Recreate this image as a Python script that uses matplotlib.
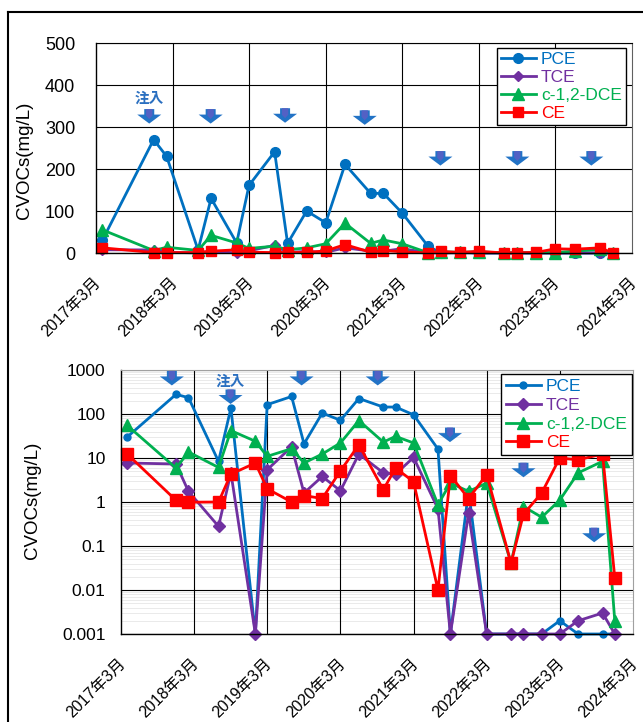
import numpy as np
import pandas as pd
import matplotlib
matplotlib.use("Agg")
from matplotlib import pyplot as plt
import matplotlib.dates as mdates
import matplotlib.transforms as mtrans
from matplotlib.patches import Polygon
from matplotlib.lines import Line2D
from matplotlib.ticker import FixedLocator, FuncFormatter, LogLocator, NullFormatter

plt.rcParams['font.family'] = ['Liberation Sans', 'Noto Sans CJK JP', 'DejaVu Sans']

# sampling dates (shared by all series)
dates = ["2017-04-01", "2017-12-01", "2018-02-01", "2018-07-01", "2018-09-01",
         "2019-01-01", "2019-03-01", "2019-07-01", "2019-09-01", "2019-12-01",
         "2020-03-01", "2020-06-01", "2020-10-01", "2020-12-01", "2021-03-01",
         "2021-07-01", "2021-09-01", "2021-12-01", "2022-03-01", "2022-07-01",
         "2022-09-01", "2022-12-01", "2023-03-01", "2023-06-01", "2023-10-01",
         "2023-12-01"]

# mg/L, top (linear) chart PCE
pce_lin = [31, 270, 230, 7, 130, 24, 161, 241, 23, 100, 72, 211, 142, 142, 95, 17,
           0, 2, 0, 0, 0, 0, 0, 0, 0, 0]
# mg/L, bottom (log) chart, ND plotted as 0.001
pce = [30, 280, 235, 8.4, 137, 0.001, 163, 250, 21, 105, 72, 225, 144, 144, 96, 16,
       0.001, 1.8, 0.001, 0.001, 0.001, 0.001, 0.002, 0.001, 0.001, 0.001]
tce = [7.7, 7.3, 1.74, 0.28, 4.6, 0.001, 5.4, 18, 1.6, 3.8, 1.8, 12.3, 4.6, 4.3, 10.3, 0.7,
       0.001, 0.56, 0.001, 0.001, 0.001, 0.001, 0.001, 0.002, 0.003, 0.001]
dce = [55, 5.9, 13.7, 6.1, 42, 24, 10.9, 16.3, 7.7, 12.3, 22, 71, 23, 31, 22, 0.87,
       2.7, 1.74, 2.7, 0.041, 0.79, 0.45, 1.1, 4.6, 8.4, 0.002]
ce = [12.3, 1.09, 0.99, 1.0, 4.3, 7.7, 2.0, 1.0, 1.4, 1.2, 5.1, 20, 1.9, 5.9, 2.9, 0.01,
      4.0, 1.2, 4.2, 0.041, 0.53, 1.6, 10, 9.1, 12.3, 0.019]

year_ticks = ["2017-03-01", "2018-03-01", "2019-03-01", "2020-03-01",
              "2021-03-01", "2022-03-01", "2023-03-01", "2024-03-01"]
year_labels = ["2017年3月", "2018年3月", "2019年3月", "2020年3月",
               "2021年3月", "2022年3月", "2023年3月", "2024年3月"]

# injection timing (arrows)
inject_dates = ["2017-11-10", "2018-08-30", "2019-08-20", "2020-09-03",
                "2021-08-30", "2022-09-01", "2023-08-20"]
arrow_y_top = [326, 326, 328, 323, 226, 226, 226]
arrow_y_bot = [660, 250, 660, 660, 34, 5.4, 0.18]

colors = {"PCE": "#0070C0", "TCE": "#7030A0", "c-1,2-DCE": "#00B050", "CE": "#FF0000"}

x = mdates.date2num(pd.to_datetime(dates))
xt = mdates.date2num(pd.to_datetime(year_ticks))
xi = mdates.date2num(pd.to_datetime(inject_dates))

W, H = 643, 722
fig = plt.figure(figsize=(W / 100, H / 100), dpi=100)


def draw_arrow(ax, xd, yd):
    tr = fig.dpi_scale_trans + mtrans.ScaledTranslation(xd, yd, ax.transData)
    s = 1 / 100.0
    verts = [(-5, 7), (5, 7), (5, 1.5), (12, 1.5), (0, -7.5), (-12, 1.5), (-5, 1.5)]
    ax.add_patch(Polygon([(a * s, b * s) for a, b in verts], closed=True, transform=tr,
                         facecolor="#2273C6", edgecolor="none", clip_on=False, zorder=6))
    inner = [(-3.2, 7), (3.2, 7), (3.2, 0.5), (0, -3), (-3.2, 0.5)]
    ax.add_patch(Polygon([(a * s, b * s) for a, b in inner], closed=True, transform=tr,
                         facecolor="#5361C4", edgecolor="none", clip_on=False, zorder=7))


def style_axes(ax, dy_px):
    ax.set_xlim(xt[0], xt[-1])
    ax.xaxis.set_major_locator(FixedLocator(xt))
    ax.grid(True, which="major", axis="y", color="black", linewidth=0.8, zorder=0.6)
    for v in xt[1:-1]:
        ax.axvline(v, color="black", linewidth=0.8, zorder=0.9)
    ax.tick_params(axis="x", length=0)
    ax.tick_params(axis="y", length=0)
    for s in ["left", "bottom"]:
        ax.spines[s].set_color("black")
        ax.spines[s].set_linewidth(1.0)
    ax.set_axisbelow(True)
    ax.set_xticks(xt)
    ax.set_xticklabels(year_labels, rotation=45, ha="right", va="top",
                       rotation_mode="anchor", fontsize=11.5)
    for lab in ax.get_xticklabels():
        lab.set_transform(lab.get_transform() +
                          mtrans.ScaledTranslation(-3 / 100, -dy_px / 100, fig.dpi_scale_trans))


# ---------------- top: linear ----------------
ax1 = fig.add_axes([96 / W, 1 - 253 / H, 536 / W, 210 / H])
style_axes(ax1, 17)
ax1.spines["top"].set_color("black")
ax1.spines["right"].set_color("#606060")
ax1.set_ylim(0, 500)
ax1.set_yticks(range(0, 501, 100))
ax1.tick_params(axis="y", labelsize=13, pad=15)

ax1.plot(x, pce_lin, color=colors["PCE"], marker="o", ms=7, lw=2, label="PCE", clip_on=False)
ax1.plot(x, tce, color=colors["TCE"], marker="D", ms=5.5, lw=2, label="TCE", clip_on=False)
ax1.plot(x, dce, color=colors["c-1,2-DCE"], marker="^", ms=8.5, lw=2, label="c-1,2-DCE", clip_on=False)
ax1.plot(x, ce, color=colors["CE"], marker="s", ms=7, lw=2, label="CE", clip_on=False)

for xd, yd in zip(xi, arrow_y_top):
    draw_arrow(ax1, xd, yd)
ax1.text(xi[0], 369, "注入", color="#2A6FC0", fontsize=10.5, fontweight="bold",
         ha="center", va="center", family=["Noto Sans CJK JP"], zorder=8)

leg1 = ax1.legend(loc="upper right", bbox_to_anchor=(626 / W, 1 - 48 / H),
                  bbox_transform=fig.transFigure, fontsize=12.5, labelcolor="linecolor",
                  frameon=True, fancybox=False, framealpha=1, edgecolor="black",
                  handlelength=2.0, handletextpad=0.3, borderpad=0.25, labelspacing=0.15,
                  borderaxespad=0)
leg1.get_frame().set_linewidth(1.0)

fig.text(25 / W, 1 - 160 / H, "CVOCs(mg/L)", rotation=90, ha="center", va="center", fontsize=13.5)

# ---------------- bottom: log ----------------
ax2 = fig.add_axes([121 / W, 1 - 634 / H, 512 / W, 264 / H])
ax2.set_yscale("log")
style_axes(ax2, 17)
ax2.spines["top"].set_color("#a0a0a0")
ax2.spines["right"].set_color("#a0a0a0")
ax2.set_ylim(0.001, 1000)
ax2.yaxis.set_major_locator(LogLocator(base=10, numticks=10))
ax2.yaxis.set_major_formatter(FuncFormatter(lambda v, p: "%g" % v))
ax2.yaxis.set_minor_locator(LogLocator(base=10, subs=np.arange(2, 10), numticks=20))
ax2.yaxis.set_minor_formatter(NullFormatter())
ax2.grid(True, which="minor", axis="y", color="#e6e6e6", linewidth=0.6, zorder=0.5)
ax2.tick_params(axis="y", which="both", length=0, labelsize=12.5, pad=11)

ax2.plot(x, pce, color=colors["PCE"], marker="o", ms=5, lw=2, label="PCE", clip_on=False)
ax2.plot(x, tce, color=colors["TCE"], marker="D", ms=6, lw=2, label="TCE", clip_on=False)
ax2.plot(x, dce, color=colors["c-1,2-DCE"], marker="^", ms=8.5, lw=2, label="c-1,2-DCE", clip_on=False)
ax2.plot(x, ce, color=colors["CE"], marker="s", ms=8.5, lw=2, label="CE", clip_on=False)

for xd, yd in zip(xi, arrow_y_bot):
    draw_arrow(ax2, xd, yd)
ax2.text(xi[1], 570, "注入", color="#2A6FC0", fontsize=10.5, fontweight="bold",
         ha="center", va="center", family=["Noto Sans CJK JP"], zorder=8)

leg2 = ax2.legend(loc="upper right", bbox_to_anchor=(632 / W, 1 - 374 / H),
                  bbox_transform=fig.transFigure, fontsize=12.5, labelcolor="linecolor",
                  frameon=True, fancybox=False, framealpha=1, edgecolor="black",
                  handlelength=2.0, handletextpad=0.3, borderpad=0.3, labelspacing=0.2,
                  borderaxespad=0)
leg2.get_frame().set_linewidth(1.0)

fig.text(32 / W, 1 - 500 / H, "CVOCs(mg/L)", rotation=90, ha="center", va="center", fontsize=13.5)

# outer frame (left and top edges visible)
fig.add_artist(Line2D([8 / W, 8 / W], [0, 1 - 12 / H], transform=fig.transFigure, color="black", lw=1.5))
fig.add_artist(Line2D([8 / W, 1], [1 - 12 / H, 1 - 12 / H], transform=fig.transFigure, color="black", lw=1.5))

fig.savefig("out.png", dpi=100)
